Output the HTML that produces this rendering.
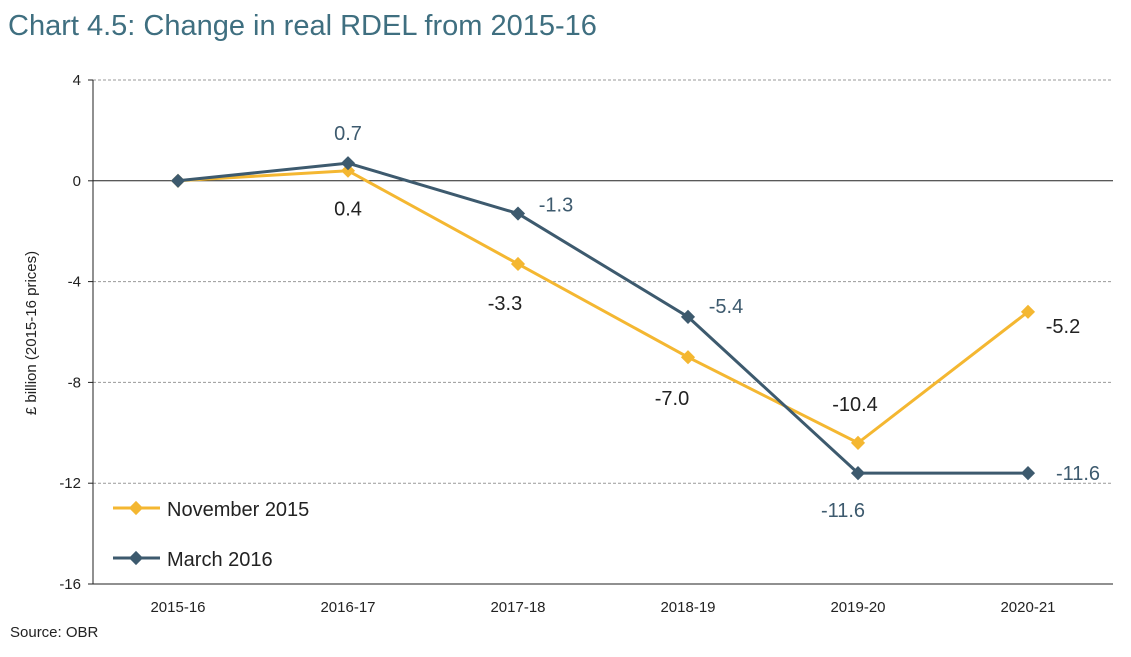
<!DOCTYPE html>
<html><head><meta charset="utf-8"><style>
body{margin:0;background:#fff;font-family:"Liberation Sans",sans-serif;}
svg text{font-family:"Liberation Sans",sans-serif;}
</style></head><body>
<svg width="1131" height="652" viewBox="0 0 1131 652">
<text x="8" y="35" font-size="29" fill="#3f6f80">Chart 4.5: Change in real RDEL from 2015-16</text>
<text x="10" y="637" font-size="15" fill="#222">Source: OBR</text>
<text transform="translate(36,333) rotate(-90)" text-anchor="middle" font-size="15" fill="#222">£ billion (2015-16 prices)</text>
<g id="grid"></g><g id="lines"></g><g id="labels"></g>
<g>
<line x1="113" y1="508" x2="160" y2="508" stroke="#f4b731" stroke-width="3"/>
<rect x="131" y="503" width="10" height="10" transform="rotate(45 136 508)" fill="#f4b731"/>
<text x="167" y="516" font-size="20" fill="#222">November 2015</text>
<line x1="113" y1="558" x2="160" y2="558" stroke="#3d5a6e" stroke-width="3"/>
<rect x="131" y="553" width="10" height="10" transform="rotate(45 136 558)" fill="#3d5a6e"/>
<text x="167" y="566" font-size="20" fill="#222">March 2016</text>
</g>
</svg>
<script>
const categories=["2015-16","2016-17","2017-18","2018-19","2019-20","2020-21"];
const nov2015=[0,0.4,-3.3,-7.0,-10.4,-5.2];
const mar2016=[0,0.7,-1.3,-5.4,-11.6,-11.6];
const yTicks=[4,0,-4,-8,-12,-16];
const novLabels=["","0.4","-3.3","-7.0","-10.4","-5.2"];
const marLabels=["","0.7","-1.3","-5.4","-11.6","-11.6"];
const NS="http://www.w3.org/2000/svg";
const x0=93,x1=1113,yTop=80,yBot=584;
const xs=i=>x0+(x1-x0)/categories.length*(i+0.5);
const ys=v=>yTop+(4-v)/20*(yBot-yTop);
function mk(t,a,p){const e=document.createElementNS(NS,t);for(const k in a)e.setAttribute(k,a[k]);p.appendChild(e);return e;}
const g=document.getElementById('grid');
yTicks.forEach(v=>{
 if(v!==0&&v!==-16){const l=mk('line',{x1:x0,x2:x1,y1:ys(v),y2:ys(v),stroke:'#999','stroke-dasharray':'3,2'},g);
 
 }
 const t=mk('text',{x:x0-12,y:ys(v)+5,'text-anchor':'end','font-size':15,fill:'#222'},g);t.textContent=v;
 
 
 mk('line',{x1:x0-5,x2:x0,y1:ys(v),y2:ys(v),stroke:'#222'},g);
});
mk('line',{x1:x0,x2:x0,y1:yTop,y2:yBot,stroke:'#222'},g);
mk('line',{x1:x0,x2:x1,y1:ys(0),y2:ys(0),stroke:'#222'},g);
mk('line',{x1:x0,x2:x1,y1:yBot,y2:yBot,stroke:'#222'},g);
categories.forEach((c,i)=>{
 const t=mk('text',{x:xs(i),y:612,'text-anchor':'middle','font-size':15,fill:'#222'},g);t.textContent=c;
 
 
});
const L=document.getElementById('lines');
function series(vals,col,name){
 const p=mk('polyline',{points:vals.map((v,i)=>xs(i)+','+ys(v)).join(' '),fill:'none',stroke:col,'stroke-width':3},L);
 
 
 vals.forEach((v,i)=>{const r=mk('rect',{x:xs(i)-5,y:ys(v)-5,width:10,height:10,fill:col,transform:`rotate(45 ${xs(i)} ${ys(v)})`},L);
 
 });
}
series(nov2015,'#f4b731','november-2015');
series(mar2016,'#3d5a6e','march-2016');
const LB=document.getElementById('labels');
const novOff=[[0,0],[0,38],[-13,39],[-16,41],[-3,-39],[35,14]];
const marOff=[[0,0],[0,-30],[38,-9],[38,-11],[-15,37],[50,0]];
function labs(vals,texts,offs,col){
 vals.forEach((v,i)=>{if(!texts[i])return;
 const t=mk('text',{x:xs(i)+offs[i][0],y:ys(v)+offs[i][1]+7,'text-anchor':'middle','font-size':20,fill:col},LB);
 t.textContent=texts[i];
 
 });
}
labs(nov2015,novLabels,novOff,'#222');
labs(mar2016,marLabels,marOff,'#3d5a6e');
</script>
</body></html>
